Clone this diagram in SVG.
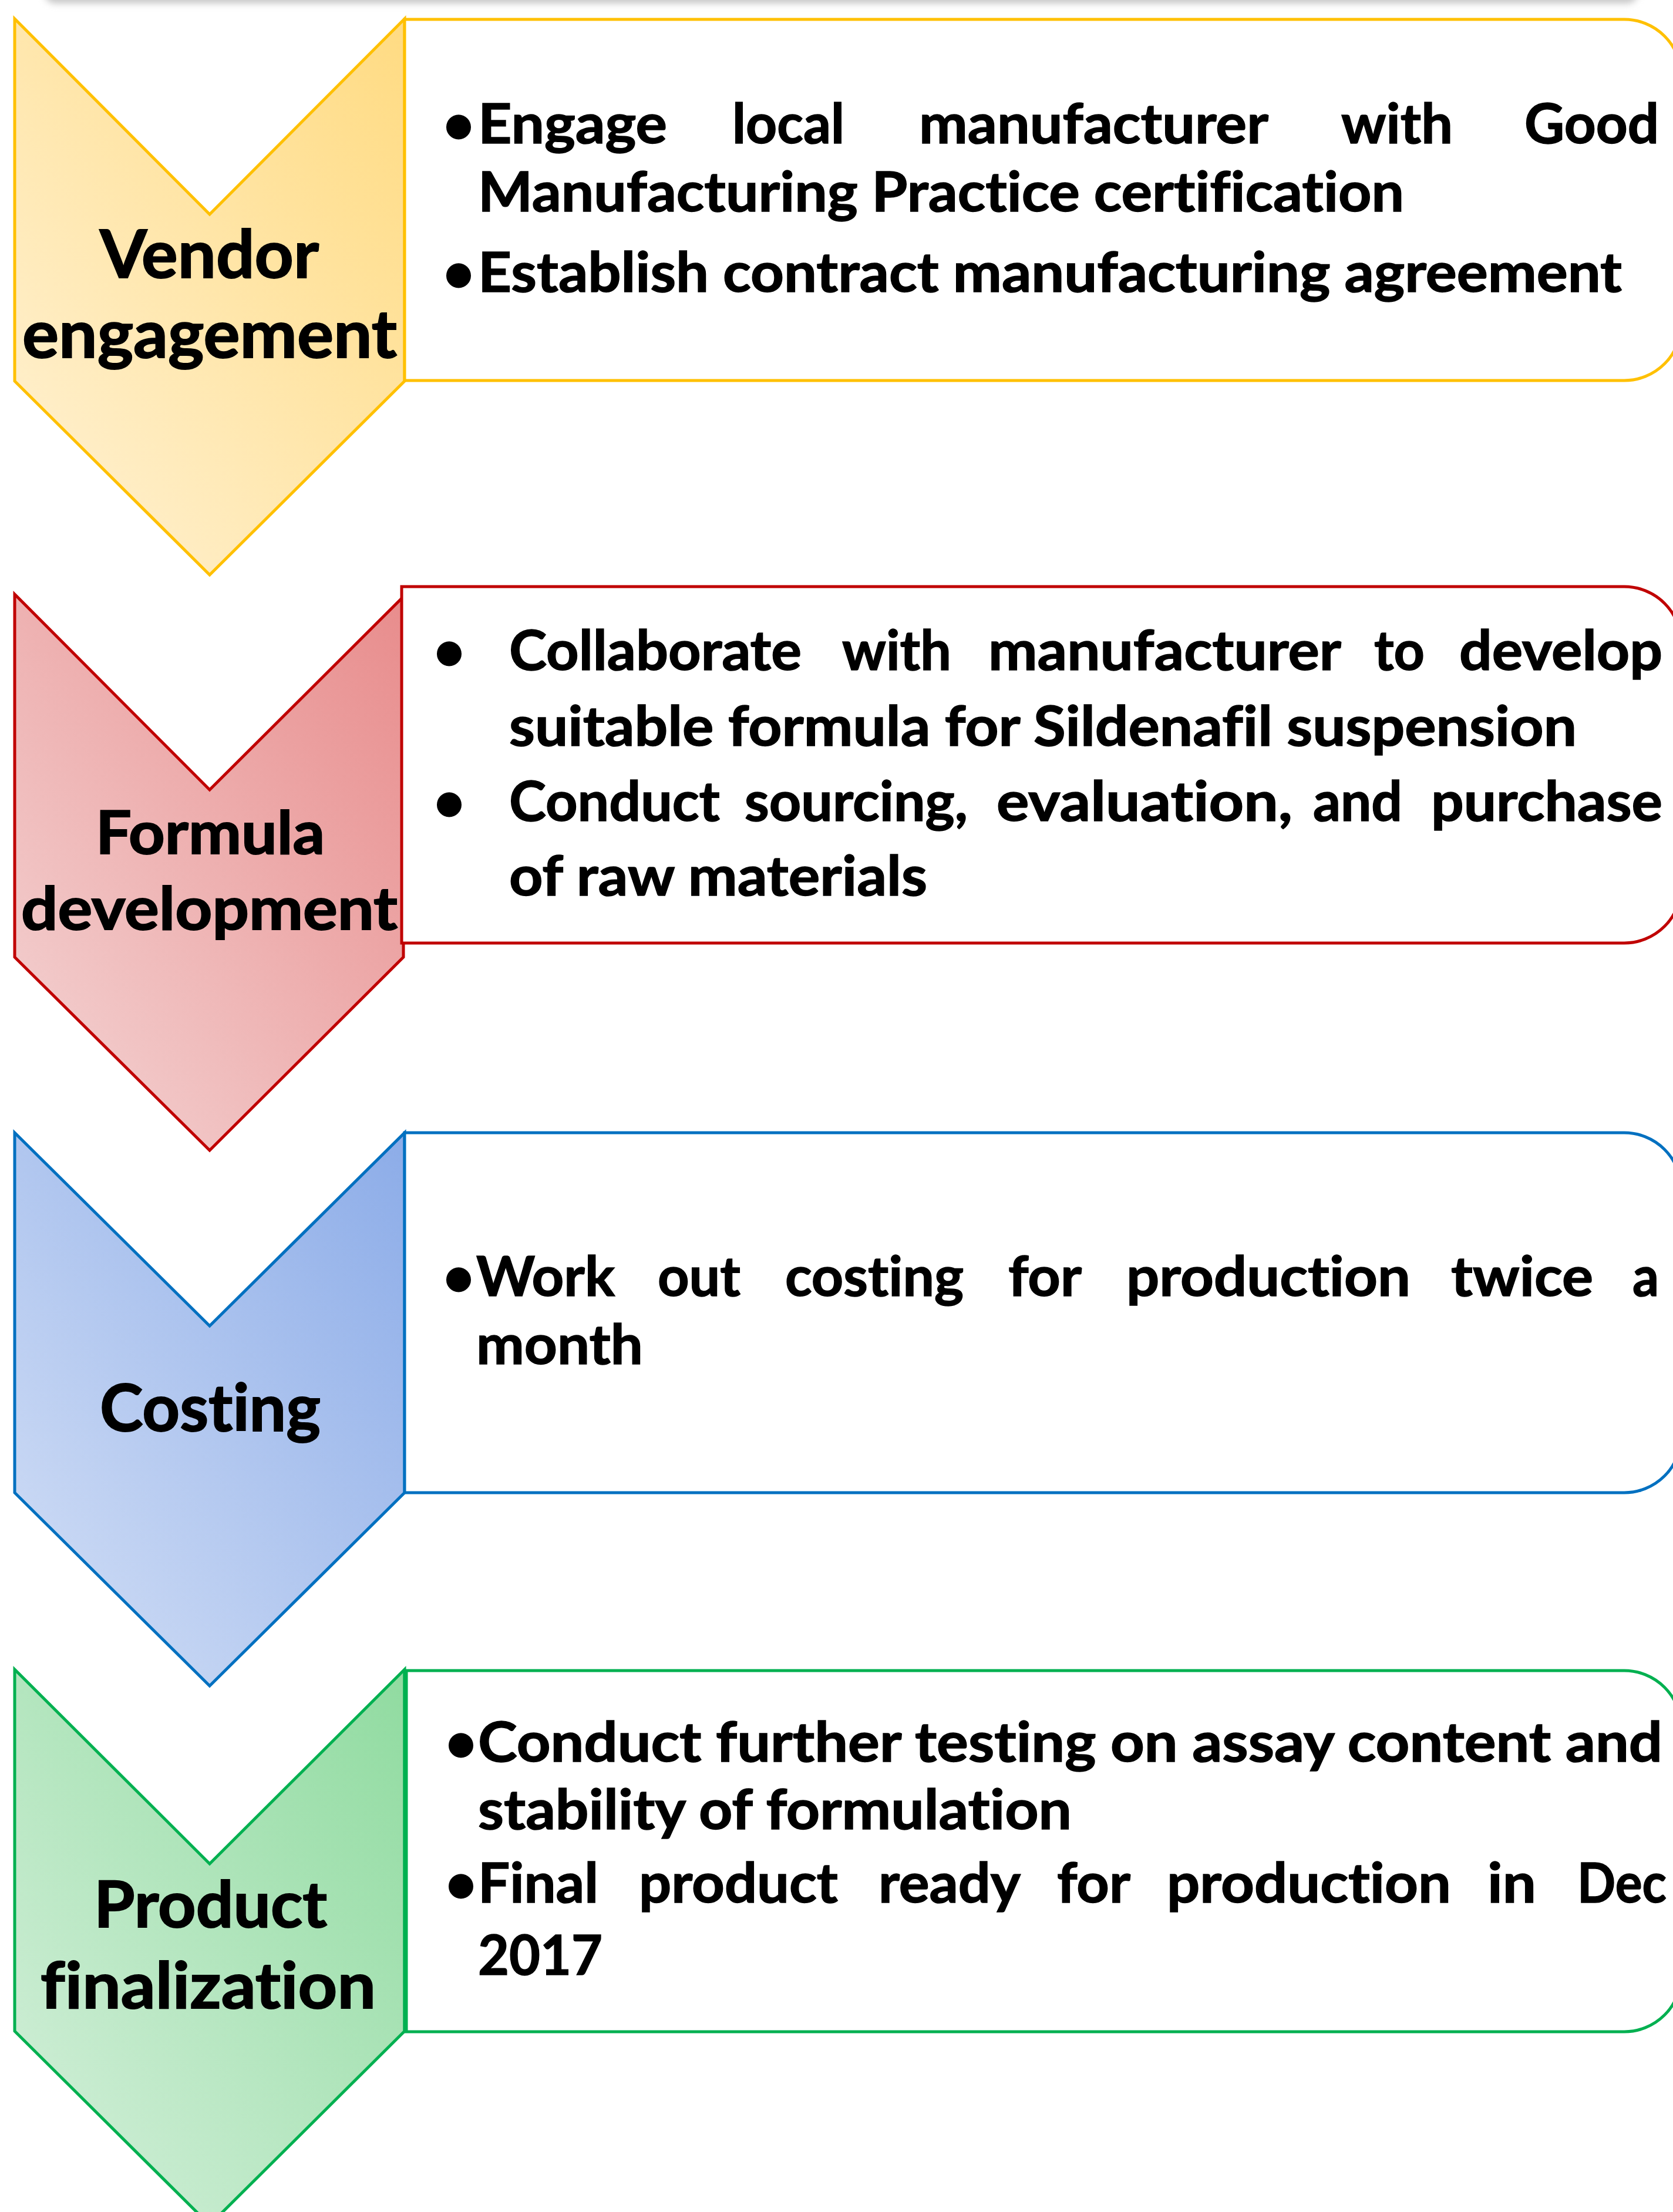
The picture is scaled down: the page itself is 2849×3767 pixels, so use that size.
<svg xmlns="http://www.w3.org/2000/svg" width="2849" height="3767" viewBox="0 0 2849 3767">
<defs>
<style>
.t{font-family:Lato,"Open Sans","Liberation Sans",sans-serif;font-weight:700;font-size:93px;fill:#000;stroke:#000;stroke-width:1.5px;font-variant-ligatures:none;font-feature-settings:"liga" 0,"clig" 0}
.lbl{font-family:Lato,"Open Sans","Liberation Sans",sans-serif;font-weight:700;fill:#000;stroke:#000;stroke-width:2px;font-variant-ligatures:none;font-feature-settings:"liga" 0,"clig" 0}
.box{fill:#fff;stroke-width:5}
.chev{stroke-width:5;stroke-linejoin:miter}
</style>
<linearGradient id="gY" x1="0" y1="1" x2="1" y2="0"><stop offset="0" stop-color="#FFF2D6"/><stop offset="1" stop-color="#FFDB82"/></linearGradient>
<linearGradient id="gR" x1="0" y1="1" x2="1" y2="0"><stop offset="0" stop-color="#F4D6D6"/><stop offset="1" stop-color="#E88C8C"/></linearGradient>
<linearGradient id="gB" x1="0" y1="1" x2="1" y2="0"><stop offset="0" stop-color="#D4E0F6"/><stop offset="1" stop-color="#8CACE8"/></linearGradient>
<linearGradient id="gG" x1="0" y1="1" x2="1" y2="0"><stop offset="0" stop-color="#D6F0DC"/><stop offset="1" stop-color="#90DBA0"/></linearGradient>
<filter id="blur" x="-5%" y="-100%" width="110%" height="300%"><feGaussianBlur stdDeviation="6"/></filter>
</defs>
<rect width="2849" height="3767" fill="#fff"/>
<rect x="75" y="-40" width="2715" height="46" rx="20" fill="#c8c8c8" filter="url(#blur)"/>

<g id="connectors"></g>

<g id="vendor-engagement">
<path class="chev" d="M25,32 L357,365 L689,32 L689,649 L357,979 L25,649 Z" fill="url(#gY)" stroke="#FFC000"/>
<text class="lbl" x="170" y="473" font-size="113" textLength="373" lengthAdjust="spacingAndGlyphs">Vendor</text>
<text class="lbl" x="38" y="609" font-size="113" textLength="638" lengthAdjust="spacingAndGlyphs">engagement</text>
<path class="box" d="M689,33 H2766 A97,97 0 0 1 2863,130 V551 A97,97 0 0 1 2766,648 H689 Z" stroke="#FFC000"/>
<text class="t" x="754" y="244" font-size="88">•</text>
<text class="t" y="244"><tspan x="814" textLength="322" lengthAdjust="spacingAndGlyphs">Engage</tspan><tspan x="1247" textLength="191" lengthAdjust="spacingAndGlyphs">local</tspan><tspan x="1565" textLength="595" lengthAdjust="spacingAndGlyphs">manufacturer</tspan><tspan x="2284" textLength="190" lengthAdjust="spacingAndGlyphs">with</tspan><tspan x="2596" textLength="229" lengthAdjust="spacingAndGlyphs">Good</tspan></text>
<text class="t" x="814" y="360" textLength="1577" lengthAdjust="spacingAndGlyphs">Manufacturing Practice certification</text>
<text class="t" x="754" y="497" font-size="88">•</text>
<text class="t" x="814" y="497" textLength="1948" lengthAdjust="spacingAndGlyphs">Establish contract manufacturing agreement</text>
</g>

<g id="formula-development">
<path class="chev" d="M25,1012 L357,1345 L687,1016 L687,1630 L357,1959 L25,1630 Z" fill="url(#gR)" stroke="#C00000"/>
<text class="lbl" x="163" y="1454" font-size="102" textLength="390" lengthAdjust="spacingAndGlyphs">Formula</text>
<text class="lbl" x="36" y="1583" font-size="102" textLength="641" lengthAdjust="spacingAndGlyphs">development</text>
<path class="box" d="M684,999 H2766 A97,97 0 0 1 2863,1096 V1509 A97,97 0 0 1 2766,1606 H684 Z" stroke="#C00000"/>
<text class="t" x="738" y="1141" font-size="110">•</text>
<text class="t" y="1141"><tspan x="867" textLength="498" lengthAdjust="spacingAndGlyphs">Collaborate</tspan><tspan x="1434" textLength="186" lengthAdjust="spacingAndGlyphs">with</tspan><tspan x="1683" textLength="601" lengthAdjust="spacingAndGlyphs">manufacturer</tspan><tspan x="2340" textLength="86" lengthAdjust="spacingAndGlyphs">to</tspan><tspan x="2485" textLength="346" lengthAdjust="spacingAndGlyphs">develop</tspan></text>
<text class="t" x="867" y="1270" textLength="1818" lengthAdjust="spacingAndGlyphs">suitable formula for Sildenafil suspension</text>
<text class="t" x="738" y="1398" font-size="110">•</text>
<text class="t" y="1398"><tspan x="867" textLength="359" lengthAdjust="spacingAndGlyphs">Conduct</tspan><tspan x="1268" textLength="380" lengthAdjust="spacingAndGlyphs">sourcing,</tspan><tspan x="1697" textLength="504" lengthAdjust="spacingAndGlyphs">evaluation,</tspan><tspan x="2236" textLength="152" lengthAdjust="spacingAndGlyphs">and</tspan><tspan x="2437" textLength="394" lengthAdjust="spacingAndGlyphs">purchase</tspan></text>
<text class="t" x="867" y="1525" textLength="712" lengthAdjust="spacingAndGlyphs">of raw materials</text>
</g>

<g id="costing">
<path class="chev" d="M25,1929 L357,2258 L689,1929 L689,2542 L357,2871 L25,2542 Z" fill="url(#gB)" stroke="#0070C0"/>
<text class="lbl" x="170" y="2437" font-size="112" textLength="376" lengthAdjust="spacingAndGlyphs">Costing</text>
<path class="box" d="M689,1929 H2766 A97,97 0 0 1 2863,2026 V2445 A97,97 0 0 1 2766,2542 H689 Z" stroke="#0070C0"/>
<text class="t" x="754" y="2207" font-size="88">•</text>
<text class="t" y="2207"><tspan x="811" textLength="236" lengthAdjust="spacingAndGlyphs">Work</tspan><tspan x="1120" textLength="141" lengthAdjust="spacingAndGlyphs">out</tspan><tspan x="1337" textLength="304" lengthAdjust="spacingAndGlyphs">costing</tspan><tspan x="1717" textLength="125" lengthAdjust="spacingAndGlyphs">for</tspan><tspan x="1918" textLength="484" lengthAdjust="spacingAndGlyphs">production</tspan><tspan x="2471" textLength="242" lengthAdjust="spacingAndGlyphs">twice</tspan><tspan x="2780" textLength="45" lengthAdjust="spacingAndGlyphs">a</tspan></text>
<text class="t" x="811" y="2323" textLength="284" lengthAdjust="spacingAndGlyphs">month</text>
</g>

<g id="product-finalization">
<path class="chev" d="M25,2843 L357,3174 L689,2843 L689,3459 L357,3789 L25,3459 Z" fill="url(#gG)" stroke="#00B050"/>
<text class="lbl" x="160" y="3282" font-size="109" textLength="397" lengthAdjust="spacingAndGlyphs">Product</text>
<text class="lbl" x="69" y="3420" font-size="109" textLength="571" lengthAdjust="spacingAndGlyphs">finalization</text>
<path class="box" d="M689,2845 H2766 A97,97 0 0 1 2863,2942 V3363 A97,97 0 0 1 2766,3460 H689 Z" stroke="#00B050"/>
<line x1="692" y1="2845" x2="692" y2="3460" stroke="#00B050" stroke-width="5"/>
<text class="t" x="758" y="3000" font-size="88">•</text>
<text class="t" x="814" y="3000" textLength="2017" lengthAdjust="spacingAndGlyphs">Conduct further testing on assay content and</text>
<text class="t" x="814" y="3115" textLength="1011" lengthAdjust="spacingAndGlyphs">stability of formulation</text>
<text class="t" x="758" y="3240" font-size="88">•</text>
<text class="t" y="3240"><tspan x="814" textLength="205" lengthAdjust="spacingAndGlyphs">Final</tspan><tspan x="1088" textLength="339" lengthAdjust="spacingAndGlyphs">product</tspan><tspan x="1496" textLength="242" lengthAdjust="spacingAndGlyphs">ready</tspan><tspan x="1800" textLength="125" lengthAdjust="spacingAndGlyphs">for</tspan><tspan x="1987" textLength="484" lengthAdjust="spacingAndGlyphs">production</tspan><tspan x="2533" textLength="83" lengthAdjust="spacingAndGlyphs">in</tspan><tspan x="2686" textLength="152" lengthAdjust="spacingAndGlyphs">Dec</tspan></text>
<text class="t" x="814" y="3363" textLength="212" lengthAdjust="spacingAndGlyphs">2017</text>
</g>
</svg>
